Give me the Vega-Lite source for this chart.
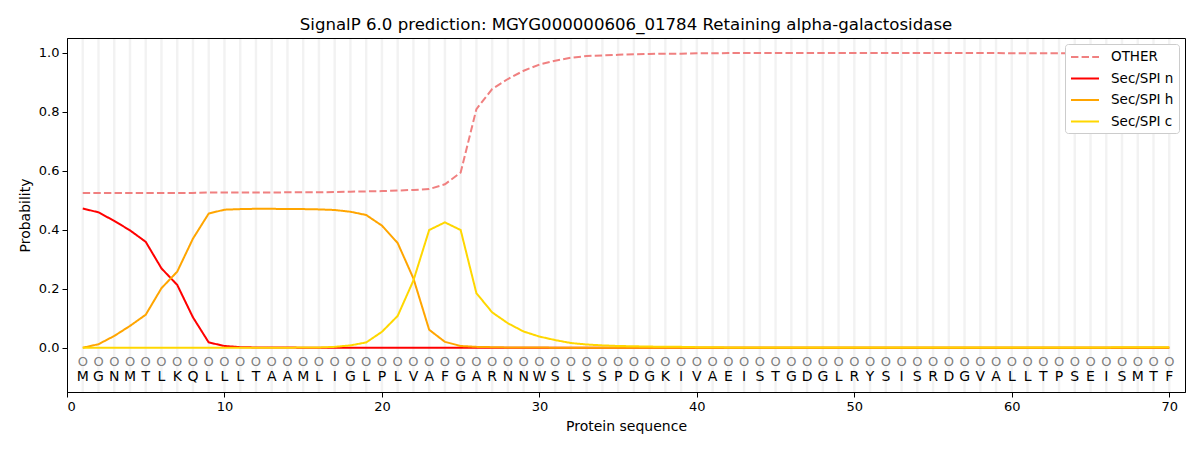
{
  "$schema": "https://vega.github.io/schema/vega-lite/v6.json",
  "autosize": "none",
  "width": 1118,
  "height": 354,
  "padding": {"left": 67, "top": 38, "right": 15, "bottom": 58},
  "background": "white",
  "title": {"text": "SignalP 6.0 prediction: MGYG000000606_01784 Retaining alpha-galactosidase", "fontSize": 16.6, "fontWeight": "normal", "font": "DejaVu Sans", "color": "black", "offset": 3},
  "config": {
    "view": {"stroke": "black", "strokeWidth": 1},
    "font": "DejaVu Sans",
    "axis": {"labelFont": "DejaVu Sans", "titleFont": "DejaVu Sans", "labelFontSize": 13, "titleFontSize": 14, "titleFontWeight": "normal", "labelColor": "black", "titleColor": "black", "domainColor": "black", "tickColor": "black", "tickSize": 5, "labelPadding": 3, "grid": false},
    "legend": {"labelFont": "DejaVu Sans", "labelFontSize": 13.5, "labelColor": "black"}
  },
  "data": {"values": [
    {"pos":1,"aa":"M","OTHER":0.525,"Sec/SPI n":0.472,"Sec/SPI h":0.000,"Sec/SPI c":0.000},
    {"pos":2,"aa":"G","OTHER":0.525,"Sec/SPI n":0.459,"Sec/SPI h":0.012,"Sec/SPI c":0.000},
    {"pos":3,"aa":"N","OTHER":0.525,"Sec/SPI n":0.430,"Sec/SPI h":0.040,"Sec/SPI c":0.000},
    {"pos":4,"aa":"M","OTHER":0.525,"Sec/SPI n":0.398,"Sec/SPI h":0.074,"Sec/SPI c":0.000},
    {"pos":5,"aa":"T","OTHER":0.525,"Sec/SPI n":0.359,"Sec/SPI h":0.112,"Sec/SPI c":0.000},
    {"pos":6,"aa":"L","OTHER":0.525,"Sec/SPI n":0.269,"Sec/SPI h":0.202,"Sec/SPI c":0.000},
    {"pos":7,"aa":"K","OTHER":0.525,"Sec/SPI n":0.213,"Sec/SPI h":0.258,"Sec/SPI c":0.000},
    {"pos":8,"aa":"Q","OTHER":0.525,"Sec/SPI n":0.103,"Sec/SPI h":0.370,"Sec/SPI c":0.000},
    {"pos":9,"aa":"L","OTHER":0.526,"Sec/SPI n":0.018,"Sec/SPI h":0.455,"Sec/SPI c":0.000},
    {"pos":10,"aa":"L","OTHER":0.526,"Sec/SPI n":0.006,"Sec/SPI h":0.468,"Sec/SPI c":0.000},
    {"pos":11,"aa":"L","OTHER":0.526,"Sec/SPI n":0.002,"Sec/SPI h":0.470,"Sec/SPI c":0.000},
    {"pos":12,"aa":"T","OTHER":0.526,"Sec/SPI n":0.001,"Sec/SPI h":0.471,"Sec/SPI c":0.000},
    {"pos":13,"aa":"A","OTHER":0.526,"Sec/SPI n":0.001,"Sec/SPI h":0.471,"Sec/SPI c":0.000},
    {"pos":14,"aa":"A","OTHER":0.527,"Sec/SPI n":0.001,"Sec/SPI h":0.470,"Sec/SPI c":0.000},
    {"pos":15,"aa":"M","OTHER":0.527,"Sec/SPI n":0.000,"Sec/SPI h":0.470,"Sec/SPI c":0.001},
    {"pos":16,"aa":"L","OTHER":0.527,"Sec/SPI n":0.000,"Sec/SPI h":0.469,"Sec/SPI c":0.001},
    {"pos":17,"aa":"I","OTHER":0.528,"Sec/SPI n":0.000,"Sec/SPI h":0.467,"Sec/SPI c":0.003},
    {"pos":18,"aa":"G","OTHER":0.529,"Sec/SPI n":0.000,"Sec/SPI h":0.461,"Sec/SPI c":0.008},
    {"pos":19,"aa":"L","OTHER":0.530,"Sec/SPI n":0.000,"Sec/SPI h":0.450,"Sec/SPI c":0.018},
    {"pos":20,"aa":"P","OTHER":0.531,"Sec/SPI n":0.000,"Sec/SPI h":0.414,"Sec/SPI c":0.054},
    {"pos":21,"aa":"L","OTHER":0.533,"Sec/SPI n":0.000,"Sec/SPI h":0.355,"Sec/SPI c":0.108},
    {"pos":22,"aa":"V","OTHER":0.535,"Sec/SPI n":0.000,"Sec/SPI h":0.235,"Sec/SPI c":0.228},
    {"pos":23,"aa":"A","OTHER":0.538,"Sec/SPI n":0.000,"Sec/SPI h":0.061,"Sec/SPI c":0.399},
    {"pos":24,"aa":"F","OTHER":0.554,"Sec/SPI n":0.000,"Sec/SPI h":0.020,"Sec/SPI c":0.425},
    {"pos":25,"aa":"G","OTHER":0.594,"Sec/SPI n":0.000,"Sec/SPI h":0.006,"Sec/SPI c":0.399},
    {"pos":26,"aa":"A","OTHER":0.809,"Sec/SPI n":0.000,"Sec/SPI h":0.003,"Sec/SPI c":0.185},
    {"pos":27,"aa":"R","OTHER":0.877,"Sec/SPI n":0.000,"Sec/SPI h":0.002,"Sec/SPI c":0.120},
    {"pos":28,"aa":"N","OTHER":0.911,"Sec/SPI n":0.000,"Sec/SPI h":0.001,"Sec/SPI c":0.083},
    {"pos":29,"aa":"N","OTHER":0.939,"Sec/SPI n":0.000,"Sec/SPI h":0.001,"Sec/SPI c":0.055},
    {"pos":30,"aa":"W","OTHER":0.960,"Sec/SPI n":0.000,"Sec/SPI h":0.001,"Sec/SPI c":0.038},
    {"pos":31,"aa":"S","OTHER":0.973,"Sec/SPI n":0.000,"Sec/SPI h":0.000,"Sec/SPI c":0.026},
    {"pos":32,"aa":"L","OTHER":0.983,"Sec/SPI n":0.000,"Sec/SPI h":0.000,"Sec/SPI c":0.016},
    {"pos":33,"aa":"S","OTHER":0.989,"Sec/SPI n":0.000,"Sec/SPI h":0.000,"Sec/SPI c":0.011},
    {"pos":34,"aa":"S","OTHER":0.991,"Sec/SPI n":0.000,"Sec/SPI h":0.000,"Sec/SPI c":0.008},
    {"pos":35,"aa":"P","OTHER":0.993,"Sec/SPI n":0.000,"Sec/SPI h":0.000,"Sec/SPI c":0.006},
    {"pos":36,"aa":"D","OTHER":0.995,"Sec/SPI n":0.000,"Sec/SPI h":0.000,"Sec/SPI c":0.005},
    {"pos":37,"aa":"G","OTHER":0.996,"Sec/SPI n":0.000,"Sec/SPI h":0.000,"Sec/SPI c":0.004},
    {"pos":38,"aa":"K","OTHER":0.997,"Sec/SPI n":0.000,"Sec/SPI h":0.000,"Sec/SPI c":0.003},
    {"pos":39,"aa":"I","OTHER":0.997,"Sec/SPI n":0.000,"Sec/SPI h":0.000,"Sec/SPI c":0.003},
    {"pos":40,"aa":"V","OTHER":0.998,"Sec/SPI n":0.000,"Sec/SPI h":0.000,"Sec/SPI c":0.002},
    {"pos":41,"aa":"A","OTHER":0.998,"Sec/SPI n":0.000,"Sec/SPI h":0.000,"Sec/SPI c":0.002},
    {"pos":42,"aa":"E","OTHER":0.999,"Sec/SPI n":0.000,"Sec/SPI h":0.000,"Sec/SPI c":0.001},
    {"pos":43,"aa":"I","OTHER":0.999,"Sec/SPI n":0.000,"Sec/SPI h":0.000,"Sec/SPI c":0.001},
    {"pos":44,"aa":"S","OTHER":0.999,"Sec/SPI n":0.000,"Sec/SPI h":0.000,"Sec/SPI c":0.001},
    {"pos":45,"aa":"T","OTHER":0.999,"Sec/SPI n":0.000,"Sec/SPI h":0.000,"Sec/SPI c":0.001},
    {"pos":46,"aa":"G","OTHER":0.999,"Sec/SPI n":0.000,"Sec/SPI h":0.000,"Sec/SPI c":0.001},
    {"pos":47,"aa":"D","OTHER":0.999,"Sec/SPI n":0.000,"Sec/SPI h":0.000,"Sec/SPI c":0.001},
    {"pos":48,"aa":"G","OTHER":0.999,"Sec/SPI n":0.000,"Sec/SPI h":0.000,"Sec/SPI c":0.001},
    {"pos":49,"aa":"L","OTHER":0.999,"Sec/SPI n":0.000,"Sec/SPI h":0.000,"Sec/SPI c":0.001},
    {"pos":50,"aa":"R","OTHER":0.999,"Sec/SPI n":0.000,"Sec/SPI h":0.000,"Sec/SPI c":0.001},
    {"pos":51,"aa":"Y","OTHER":0.999,"Sec/SPI n":0.000,"Sec/SPI h":0.000,"Sec/SPI c":0.001},
    {"pos":52,"aa":"S","OTHER":0.999,"Sec/SPI n":0.000,"Sec/SPI h":0.000,"Sec/SPI c":0.001},
    {"pos":53,"aa":"I","OTHER":0.999,"Sec/SPI n":0.000,"Sec/SPI h":0.000,"Sec/SPI c":0.001},
    {"pos":54,"aa":"S","OTHER":0.999,"Sec/SPI n":0.000,"Sec/SPI h":0.000,"Sec/SPI c":0.001},
    {"pos":55,"aa":"R","OTHER":0.999,"Sec/SPI n":0.000,"Sec/SPI h":0.000,"Sec/SPI c":0.001},
    {"pos":56,"aa":"D","OTHER":0.999,"Sec/SPI n":0.000,"Sec/SPI h":0.000,"Sec/SPI c":0.001},
    {"pos":57,"aa":"G","OTHER":0.999,"Sec/SPI n":0.000,"Sec/SPI h":0.000,"Sec/SPI c":0.001},
    {"pos":58,"aa":"V","OTHER":0.999,"Sec/SPI n":0.000,"Sec/SPI h":0.000,"Sec/SPI c":0.001},
    {"pos":59,"aa":"A","OTHER":0.999,"Sec/SPI n":0.000,"Sec/SPI h":0.000,"Sec/SPI c":0.001},
    {"pos":60,"aa":"L","OTHER":0.998,"Sec/SPI n":0.000,"Sec/SPI h":0.000,"Sec/SPI c":0.001},
    {"pos":61,"aa":"L","OTHER":0.998,"Sec/SPI n":0.000,"Sec/SPI h":0.000,"Sec/SPI c":0.001},
    {"pos":62,"aa":"T","OTHER":0.998,"Sec/SPI n":0.000,"Sec/SPI h":0.000,"Sec/SPI c":0.001},
    {"pos":63,"aa":"P","OTHER":0.998,"Sec/SPI n":0.000,"Sec/SPI h":0.000,"Sec/SPI c":0.001},
    {"pos":64,"aa":"S","OTHER":0.998,"Sec/SPI n":0.000,"Sec/SPI h":0.000,"Sec/SPI c":0.001},
    {"pos":65,"aa":"E","OTHER":0.998,"Sec/SPI n":0.000,"Sec/SPI h":0.000,"Sec/SPI c":0.001},
    {"pos":66,"aa":"I","OTHER":0.998,"Sec/SPI n":0.000,"Sec/SPI h":0.000,"Sec/SPI c":0.001},
    {"pos":67,"aa":"S","OTHER":0.997,"Sec/SPI n":0.000,"Sec/SPI h":0.000,"Sec/SPI c":0.002},
    {"pos":68,"aa":"M","OTHER":0.997,"Sec/SPI n":0.000,"Sec/SPI h":0.000,"Sec/SPI c":0.002},
    {"pos":69,"aa":"T","OTHER":0.997,"Sec/SPI n":0.000,"Sec/SPI h":0.000,"Sec/SPI c":0.002},
    {"pos":70,"aa":"F","OTHER":0.997,"Sec/SPI n":0.000,"Sec/SPI h":0.000,"Sec/SPI c":0.002}
  ]},
  "layer": [
    {
      "mark": {"type": "rule", "color": "#000000", "opacity": 0.05, "strokeWidth": 2.5},
      "encoding": {
        "x": {"field": "pos", "type": "quantitative", "scale": {"domain": [0, 71], "nice": false, "zero": false}, "axis": {"values": [0,10,20,30,40,50,60,70], "format": "d", "title": "Protein sequence", "titlePadding": 6}}
      }
    },
    {
      "transform": [{"fold": ["OTHER", "Sec/SPI n", "Sec/SPI h", "Sec/SPI c"], "as": ["series", "prob"]}],
      "mark": {"type": "line", "strokeWidth": 2},
      "encoding": {
        "x": {"field": "pos", "type": "quantitative"},
        "y": {"field": "prob", "type": "quantitative", "scale": {"domain": [-0.15, 1.05], "nice": false, "zero": false}, "axis": {"values": [0, 0.2, 0.4, 0.6, 0.8, 1.0], "format": ".1f", "title": "Probability", "titlePadding": 6}},
        "color": {"field": "series", "type": "nominal", "scale": {"domain": ["OTHER", "Sec/SPI n", "Sec/SPI h", "Sec/SPI c"], "range": ["#f08080", "#ff0000", "#ffa500", "#ffd700"]},
          "legend": {"title": null, "orient": "top-right", "offset": 6, "symbolType": "M-1,0H3", "symbolSize": 196, "symbolStrokeWidth": 2, "fillColor": "white", "strokeColor": "#cccccc", "cornerRadius": 3, "padding": 5, "rowPadding": 6.5, "labelOffset": 25}},
        "strokeDash": {"field": "series", "type": "nominal", "scale": {"domain": ["OTHER", "Sec/SPI n", "Sec/SPI h", "Sec/SPI c"], "range": [[7.4, 3.2], [1, 0], [1, 0], [1, 0]]}, "legend": {"title": null, "orient": "top-right", "offset": 6, "symbolType": "M-1,0H3", "symbolSize": 196, "symbolStrokeWidth": 2, "fillColor": "white", "strokeColor": "#cccccc", "cornerRadius": 3, "padding": 5, "rowPadding": 6.5, "labelOffset": 25}}
      }
    },
    {
      "mark": {"type": "text", "text": "O", "fontSize": 13, "color": "#808080", "font": "DejaVu Sans", "baseline": "middle"},
      "encoding": {
        "x": {"field": "pos", "type": "quantitative"},
        "y": {"datum": -0.047, "type": "quantitative"}
      }
    },
    {
      "mark": {"type": "text", "fontSize": 14, "color": "black", "font": "DejaVu Sans", "baseline": "middle"},
      "encoding": {
        "x": {"field": "pos", "type": "quantitative"},
        "y": {"datum": -0.098, "type": "quantitative"},
        "text": {"field": "aa", "type": "nominal"}
      }
    }
  ]
}
